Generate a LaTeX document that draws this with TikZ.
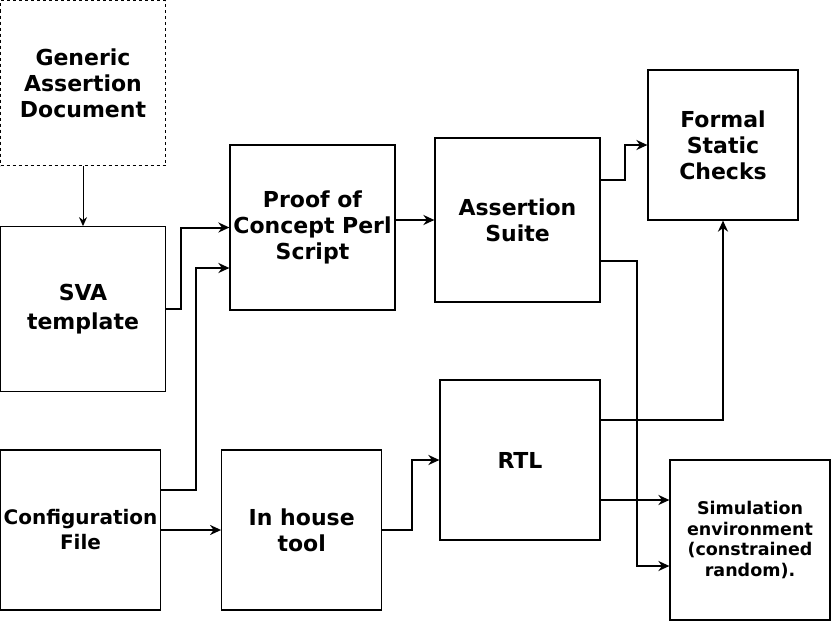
\documentclass[tikz,border=0pt]{standalone}
\usepackage{fontspec}
\setmainfont{DejaVu Sans}
\usetikzlibrary{arrows.meta, positioning}
\tikzstyle{block} = [draw, rectangle, line width=1.2pt, align=center, inner sep=1pt, font=\bfseries\fontsize{22}{26}\selectfont]
\tikzstyle{big} = [block, minimum width=165pt, minimum height=165pt]
\tikzstyle{small} = [block, minimum width=160pt, minimum height=160pt]
\tikzstyle{source} = [big, dashed, dash pattern=on 3pt off 3pt]
\tikzstyle{link} = [-{Stealth[length=11pt, width=10pt, inset=3.5pt]}, line width=2pt]
\tikzstyle{thin link} = [-{Stealth[length=9pt, width=8pt, inset=3pt]}, line width=1pt]

\begin{document}
\begin{tikzpicture}[x=1pt, y=-1pt, node distance=60pt]
    \useasboundingbox (0,0) rectangle (831,621);

    \node (generic) [source] at (83,83) {Generic\\Assertion\\Document};
    \node (sva) [big, below=of generic, font=\bfseries\fontsize{22}{29}\selectfont] {SVA\\template};
    \node (config) [small, font=\bfseries\fontsize{20}{25}\selectfont] at (80.5,530) {Configuration\\File};
    \node (inhouse) [small, right=of config] {In house\\tool};
    \node (proof) [big] at (312.5,227.5) {Proof of\\Concept Perl\\Script};
    \node (suite) [big, minimum height=164pt] at (517.5,220) {Assertion\\Suite};
    \node (formal) [block, minimum width=150pt, minimum height=150pt] at (723,145) {Formal\\Static\\Checks};
    \node (rtl) [small] at (520,460) {RTL};
    \node (sim) [small, font=\bfseries\fontsize{17.5}{20.5}\selectfont] at (750,540) {Simulation\\environment\\(constrained\\random).};

    % Arrows.
    \draw [thin link] (generic) -- (sva);
    \draw [link] (sva.east) -- ++(15,0) |- (proof.west);
    \draw [link] ([yshift=40pt]config.east) -- ++(35,0) |- ([yshift=-40.5pt]proof.west);
    \draw [link] (config) -- (inhouse);
    \draw [link] (inhouse.east) -- ++(30,0) |- (rtl.west);
    \draw [link] (proof.east |- suite.west) -- (suite.west);
    \draw [link] ([yshift=40pt]suite.east) -- ++(24,0) |- (formal.west);
    \draw [link] ([yshift=-41pt]suite.east) -- ++(36,0) |- ([yshift=-26pt]sim.west);
    \draw [link] ([yshift=40pt]rtl.east) -| (formal.south);
    \draw [link] ([yshift=-40pt]rtl.east) -- ([yshift=40pt]sim.west);
\end{tikzpicture}
\end{document}
